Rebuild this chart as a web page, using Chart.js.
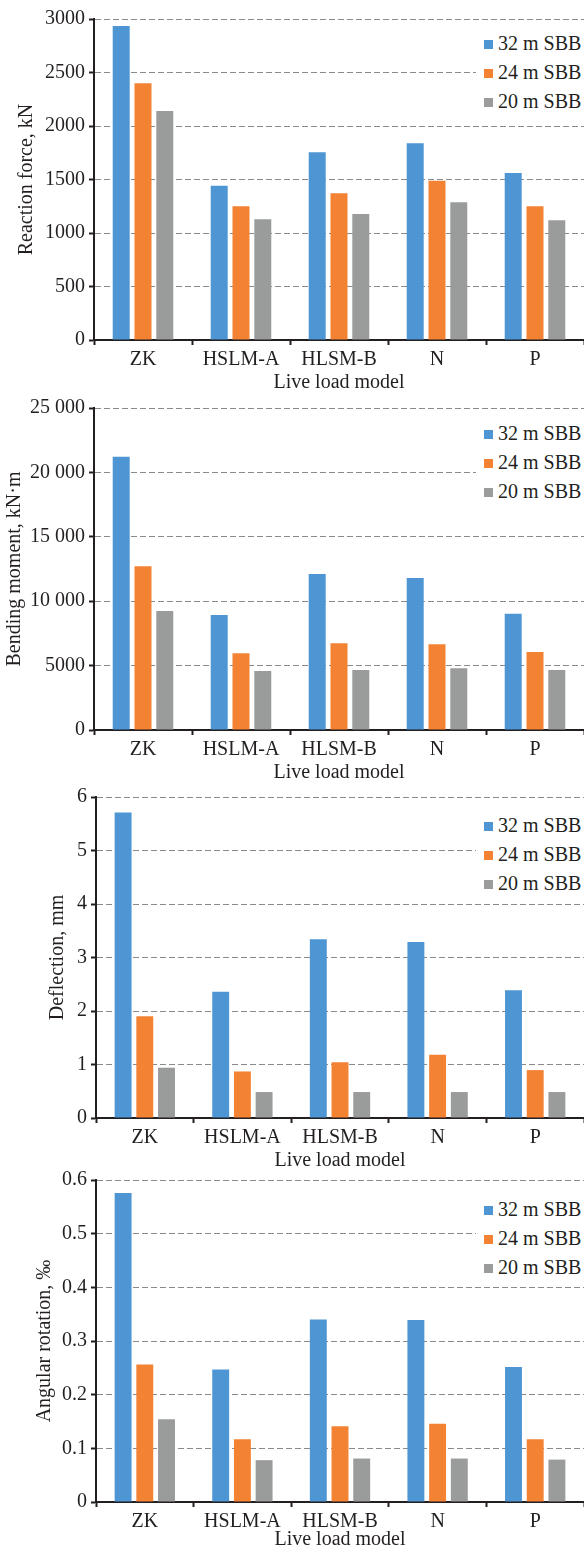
<!DOCTYPE html>
<html>
<head>
<meta charset="utf-8">
<title>Live load model responses</title>
<script src="https://cdn.jsdelivr.net/npm/chart.js@4/dist/chart.umd.min.js"></script>
<style>
  html, body { margin: 0; padding: 0; background: #fff; overflow: hidden; }
  #page { position: relative; width: 584px; height: 1546px; overflow: hidden; }
  canvas { position: absolute; left: 0; }
  .legend {
    position: absolute; left: 476px; width: 108px; background: #fff;
    font-family: 'Liberation Serif', 'DejaVu Serif', serif; font-size: 20px; color: #231f20;
  }
  .legend div { height: 29px; line-height: 29px; white-space: nowrap; padding-left: 8px; }
  .legend span { display: inline-block; width: 9px; height: 9px; margin-right: 5px; vertical-align: 1px; }
</style>
</head>
<body>
<div id="page">
  <canvas id="c1" width="584" height="395" style="top:0px"></canvas>
  <canvas id="c2" width="584" height="396" style="top:389px"></canvas>
  <canvas id="c3" width="584" height="395" style="top:778px"></canvas>
  <canvas id="c4" width="584" height="391" style="top:1161px"></canvas>
</div>
<script>
// ---- data ----
const categories = ["ZK", "HSLM-A", "HLSM-B", "N", "P"];
const seriesLabels = ["32 m SBB", "24 m SBB", "20 m SBB"];
const seriesColors = ["#4e96d3", "#f38233", "#9a9c9c"];

const reaction32 = [2935, 1442, 1754, 1838, 1561];
const reaction24 = [2400, 1249, 1371, 1489, 1249];
const reaction20 = [2140, 1128, 1178, 1287, 1119];

const moment32 = [21220, 8930, 12110, 11800, 9030];
const moment24 = [12710, 5950, 6730, 6650, 6060];
const moment20 = [9240, 4580, 4660, 4790, 4660];

const deflection32 = [5.71, 2.36, 3.34, 3.29, 2.39];
const deflection24 = [1.90, 0.87, 1.04, 1.18, 0.895];
const deflection20 = [0.94, 0.485, 0.485, 0.485, 0.485];

const rotation32 = [0.576, 0.247, 0.340, 0.339, 0.2515];
const rotation24 = [0.256, 0.117, 0.141, 0.146, 0.117];
const rotation20 = [0.154, 0.078, 0.081, 0.081, 0.079];

const xTitle = "Live load model";

// ---- styling ----
const ink = "#231f20";
Chart.defaults.font.family = "'Liberation Serif', 'DejaVu Serif', serif";
Chart.defaults.font.size = 20;
Chart.defaults.color = ink;
Chart.defaults.animation = false;

function spaced(v) {
  return v >= 10000 ? String(v).replace(/\B(?=(\d{3})+(?!\d))/g, " ") : String(v);
}

function makeChart(id, cfg) {
  const datasets = cfg.series.map((data, i) => ({
    label: seriesLabels[i],
    data,
    backgroundColor: seriesColors[i],
    categoryPercentage: 0.667,
    barPercentage: 0.78,
  }));

  return new Chart(document.getElementById(id), {
    type: "bar",
    data: { labels: categories, datasets },
    options: {
      responsive: false,
      layout: { padding: { top: 19, left: 0, right: 0, bottom: 0 } },
      plugins: { legend: { display: false }, tooltip: { enabled: false } },
      scales: {
        x: {
          afterFit: (s) => { s.height = cfg.xHeight; },
          grid: {
            offset: true, drawOnChartArea: false, drawTicks: true,
            tickLength: 5, tickWidth: 2, tickColor: ink,
          },
          border: { display: true, color: ink, width: 2 },
          ticks: { padding: 3, color: ink, maxRotation: 0 },
          title: { display: true, text: xTitle, color: ink, padding: 0, font: { lineHeight: 1.2 } },
        },
        y: {
          min: 0, max: cfg.max,
          afterFit: (s) => { s.width = cfg.left; },
          grid: {
            color: (c) => (c.tick && c.tick.value === 0 ? "rgba(0,0,0,0)" : "#8a8a8a"),
            lineWidth: 1, tickLength: 5, tickWidth: 2, tickColor: ink, tickBorderDash: [],
          },
          border: { display: true, color: ink, width: 2, dash: [6, 3] },
          ticks: { stepSize: cfg.step, padding: 4, color: ink, callback: cfg.fmt },
          title: {
            display: true, text: cfg.yTitle, color: ink,
            padding: { top: cfg.titlePad, bottom: 0 }, font: { lineHeight: 1.2 },
          },
        },
      },
    },
  });
}

makeChart("c1", {
  series: [reaction32, reaction24, reaction20], max: 3000, step: 500,
  left: 94, xHeight: 55, titlePad: 15, yTitle: "Reaction force, kN",
  fmt: (v) => String(v),
});
makeChart("c2", {
  series: [moment32, moment24, moment20], max: 25000, step: 5000,
  left: 94, xHeight: 55, titlePad: 3, yTitle: "Bending moment, kN\u00b7m",
  fmt: spaced,
});
makeChart("c3", {
  series: [deflection32, deflection24, deflection20], max: 6, step: 1,
  left: 96, xHeight: 55, titlePad: 46, yTitle: "Deflection, mm",
  fmt: (v) => String(v),
});
makeChart("c4", {
  series: [rotation32, rotation24, rotation20], max: 0.6, step: 0.1,
  left: 96, xHeight: 50, titlePad: 33, yTitle: "Angular rotation, \u2030",
  fmt: (v) => (v === 0 ? "0" : v.toFixed(1)),
});

// legends sit over the top-right of each plot, on a white box that breaks the grid lines
const legendTops = [29, 419, 811, 1195];
const page = document.getElementById("page");
legendTops.forEach((top) => {
  const box = document.createElement("div");
  box.className = "legend";
  box.style.top = top + "px";
  seriesLabels.forEach((label, i) => {
    const row = document.createElement("div");
    const sw = document.createElement("span");
    sw.style.background = seriesColors[i];
    row.appendChild(sw);
    row.appendChild(document.createTextNode(label));
    box.appendChild(row);
  });
  page.appendChild(box);
});
</script>
</body>
</html>
